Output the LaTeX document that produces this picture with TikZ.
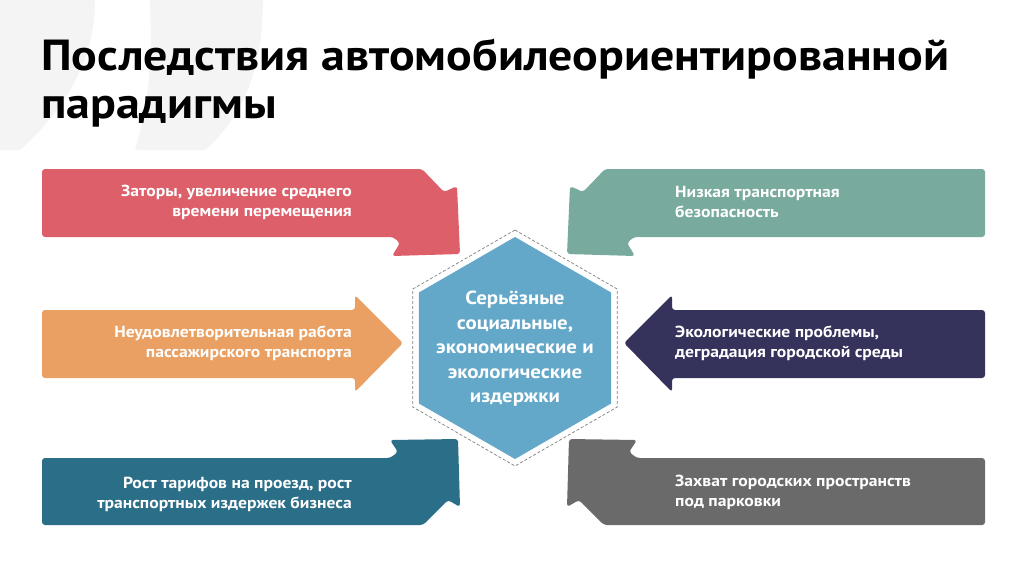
\documentclass[tikz,border=0pt]{standalone}
\usepackage{fontspec}
\setmainfont{PT Sans}[FakeStretch=1.1]
\definecolor{cRed}{HTML}{DD5F6A}
\definecolor{cGreen}{HTML}{78AA9D}
\definecolor{cOrange}{HTML}{E9A062}
\definecolor{cNavy}{HTML}{35325C}
\definecolor{cTeal}{HTML}{2B6E88}
\definecolor{cGray}{HTML}{6A6A6A}
\definecolor{cHex}{HTML}{63A7C9}
\definecolor{cQuote}{HTML}{F4F4F4}
\begin{document}
\begin{tikzpicture}[x=1pt,y=-1pt,
  arrowshape/.style={rounded corners=3pt},
  lblR/.style={text=white, font=\bfseries\fontsize{16}{20}\selectfont, align=right, anchor=east, inner sep=0pt},
  lblL/.style={text=white, font=\bfseries\fontsize{16}{20}\selectfont, align=left, anchor=west, inner sep=0pt},
  hubtxt/.style={text=white, font=\bfseries\fontsize{19}{24.5}\selectfont, align=center, inner sep=0pt},
  titletxt/.style={text=black, font=\bfseries\fontsize{43.5}{50}\selectfont, anchor=base west, inner sep=0pt}]
\useasboundingbox[fill=white] (0,0) rectangle (1024,574);
% faint background quote marks
\fill[cQuote] (0,0) -- (95,0) .. controls (95,55) and (70,105) .. (20,150) -- (0,150) -- cycle;
\fill[cQuote] (150,0) -- (263,0) .. controls (263,65) and (245,115) .. (205,150) -- (135,150) .. controls (150,100) and (152,60) .. (150,0) -- cycle;
% title
\node[titletxt] (title1) at (41,70) {Последствия автомобилеориентированной};
\node[titletxt] (title2) at (41,118) {парадигмы};
% arrows
\fill[cRed, arrowshape] (42,169) -- (422,169) -- (444,192) -- (457,186) -- (460,254) -- (392,256) -- (400,243) -- (393,237) -- (42,237) -- cycle;
\fill[cGreen, arrowshape] (985,169) -- (605,169) -- (583,192) -- (570,186) -- (567,254) -- (635,256) -- (627,243) -- (634,237) -- (985,237) -- cycle;
\fill[cOrange, arrowshape] (42,310) -- (355,310) -- (355,295) -- (403,343) -- (355,392) -- (355,378) -- (42,378) -- cycle;
\fill[cNavy, arrowshape] (985,310) -- (672,310) -- (672,295) -- (624,343) -- (672,392) -- (672,378) -- (985,378) -- cycle;
\fill[cTeal, arrowshape] (42,458) -- (390,458) -- (398,452) -- (390,440) -- (458,439) -- (460,507) -- (448,500) -- (423,525) -- (42,525) -- cycle;
\fill[cGray, arrowshape] (985,458) -- (637,458) -- (629,452) -- (637,440) -- (569,439) -- (567,507) -- (579,500) -- (604,525) -- (985,525) -- cycle;
% hexagon
\draw[gray, line width=0.7pt, dash pattern=on 3pt off 2pt] (515,230) -- (617.2,289) -- (617.2,407) -- (515,466) -- (412.8,407) -- (412.8,289) -- cycle;
\fill[cHex] (515,237) -- (611.1,292.5) -- (611.1,403.5) -- (515,459) -- (418.9,403.5) -- (418.9,292.5) -- cycle;
\node[hubtxt] (hub) at (515,349) {Серьёзные\\социальные,\\экономические и\\экологические\\издержки};
% labels
\node[lblR] (t1) at (352,202) {Заторы, увеличение среднего\\времени перемещения};
\node[lblR] (t2) at (352,343) {Неудовлетворительная работа\\пассажирского транспорта};
\node[lblR] (t3) at (352,494) {Рост тарифов на проезд, рост\\транспортных издержек бизнеса};
\node[lblL] (t4) at (675,202) {Низкая транспортная\\безопасность};
\node[lblL] (t5) at (675,343) {Экологические проблемы,\\деградация городской среды};
\node[lblL] (t6) at (675,492) {Захват городских пространств\\под парковки};
\end{tikzpicture}
\end{document}
